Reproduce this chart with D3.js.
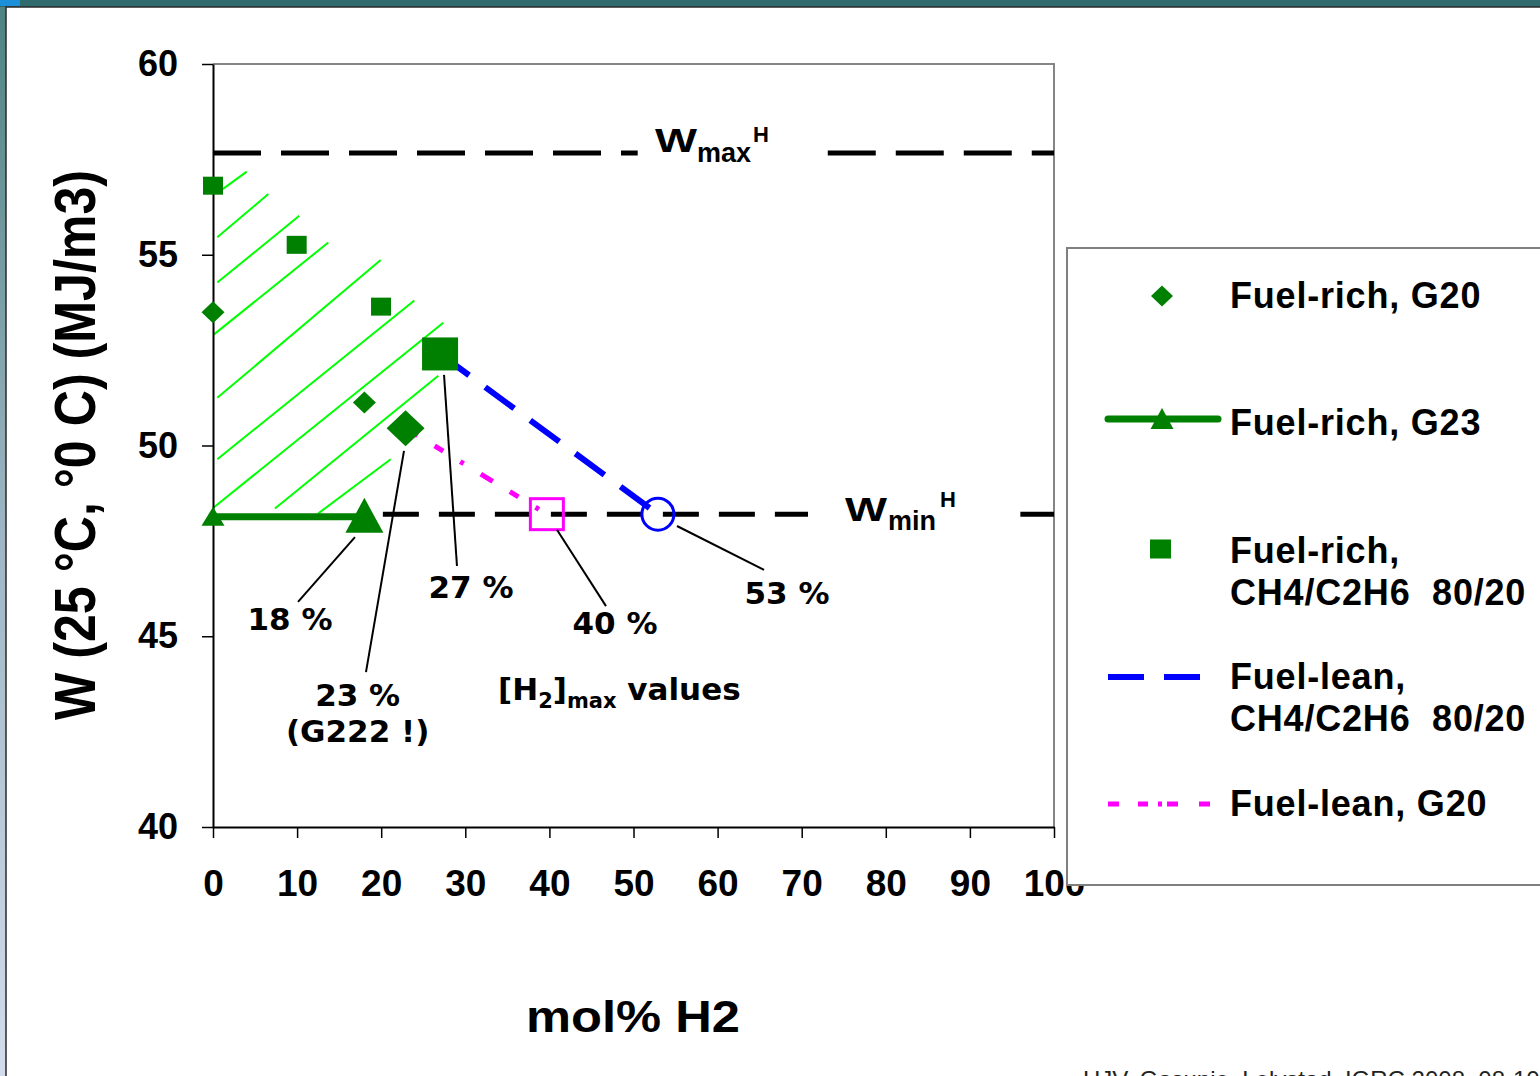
<!DOCTYPE html>
<html>
<head>
<meta charset="utf-8">
<script src="https://cdn.jsdelivr.net/npm/d3@7"></script>
<style>
  html, body { margin: 0; padding: 0; background: #fff; }
  svg { display: block; }
  text { white-space: pre; }
</style>
</head>
<body>
<div id="chart"></div>
<script>
// ---- Data (x = mol% H2, y = W in MJ/m3) ----
const xTicks = [0, 10, 20, 30, 40, 50, 60, 70, 80, 90, 100];
const yTicks = [40, 45, 50, 55, 60];

const wMax = 57.67;
const wMin = 48.2;
const wMaxSegments = [[0, 50.5], [73.1, 100]];
const wMinSegments = [[20.2, 70.75], [96, 100]];

const g20Rich = [[0, 53.49], [18, 51.13]];
const g20RichMax = [22.9, 50.45];
const g23Rich = [[0, 48.13], [18, 48.13]];
const ch4Rich = [[0, 56.81], [9.95, 55.26], [19.98, 53.64]];
const ch4RichMax = [27, 52.4];
const ch4Lean = [[27, 52.4], [52.9, 48.2]];
const g20Lean = [[22.9, 50.45], [39.7, 48.2]];

// hand-drawn hatch over the fuel-rich zone, [x1, y1, x2, y2]
const hatchSegments = [
  [1.03, 56.70, 4.01, 57.18],
  [0.51, 55.46, 6.58, 56.59],
  [0.51, 54.27, 10.26, 56.02],
  [0.04, 52.90, 13.71, 55.32],
  [0.51, 51.25, 19.94, 54.86],
  [0.51, 49.64, 23.94, 53.80],
  [0.04, 48.37, 27.38, 53.22],
  [7.37, 48.35, 26.79, 51.83],
  [12.52, 48.22, 21.13, 49.64]
];

// [H2]max call-outs: text anchor, leader line from/to
const callouts = [
  { lines: ['18 %'], at: [9.16, 45.16], from: [10.11, 45.90], to: [16.88, 47.60] },
  { lines: ['23 %', '(G222 !)'], at: [17.2, 43.17], from: [18.19, 44.06], to: [22.71, 49.86] },
  { lines: ['27 %'], at: [30.68, 46.00], from: [29.01, 46.84], to: [27.47, 51.85] },
  { lines: ['40 %'], at: [47.80, 45.06], from: [46.73, 45.79], to: [40.90, 47.79] },
  { lines: ['53 %'], at: [68.25, 45.85], from: [65.52, 46.74], to: [55.17, 47.89] }
];

const legendLabels = [
  ['Fuel-rich, G20'],
  ['Fuel-rich, G23'],
  ['Fuel-rich,', 'CH4/C2H6  80/20'],
  ['Fuel-lean,', 'CH4/C2H6  80/20'],
  ['Fuel-lean, G20']
];

// ---- Layout ----
const width = 1540, height = 1076;
const plot = { left: 213, right: 1054, top: 64, bottom: 827 };
const green = '#008000';
const axisFont = "'Liberation Sans', Arial, sans-serif";
const noteFont = "'DejaVu Sans', Verdana, sans-serif";

const x = d3.scaleLinear().domain([0, 100]).range([plot.left, plot.right]);
const y = d3.scaleLinear().domain([40, 60]).range([plot.bottom, plot.top]);

const svg = d3.select('#chart').append('svg')
  .attr('width', width)
  .attr('height', height);

// slide frame
const defs = svg.append('defs');
const grad = defs.append('linearGradient').attr('id', 'sideGrad')
  .attr('x1', 0).attr('y1', 0).attr('x2', 0).attr('y2', 1);
grad.append('stop').attr('offset', 0).attr('stop-color', '#4d8282');
grad.append('stop').attr('offset', 0.5).attr('stop-color', '#9fb6c4');
grad.append('stop').attr('offset', 1).attr('stop-color', '#d2dcec');

svg.append('rect').attr('width', width).attr('height', height).attr('fill', 'url(#sideGrad)');
svg.append('rect').attr('width', width).attr('height', 7).attr('fill', '#2f6b6d');
svg.append('rect').attr('width', 20).attr('height', 6).attr('fill', '#1b8fd8');
svg.append('rect')
  .attr('x', 6).attr('y', 7)
  .attr('width', width).attr('height', height)
  .attr('fill', '#fff')
  .attr('stroke', '#2a2a2a')
  .attr('stroke-width', 1.5);

// footer (cut off at the bottom of the slide)
svg.append('text')
  .attr('x', 1083).attr('y', 1088)
  .attr('font-family', axisFont)
  .attr('font-size', 24)
  .attr('fill', '#222')
  .text('HJV, Gasunie, Lelystad, IGRC 2008, 08-10-2008');

// ---- Hatch ----
svg.append('g').selectAll('line')
  .data(hatchSegments)
  .join('line')
  .attr('x1', d => x(d[0])).attr('y1', d => y(d[1]))
  .attr('x2', d => x(d[2])).attr('y2', d => y(d[3]))
  .attr('stroke', '#00ff00')
  .attr('stroke-width', 2);

// ---- Frame and axes ----
svg.append('path')
  .attr('d', `M${plot.left},${plot.top}H${plot.right}V${plot.bottom}`)
  .attr('fill', 'none')
  .attr('stroke', '#858585')
  .attr('stroke-width', 2);

const yAxis = svg.append('g')
  .attr('transform', `translate(${plot.left},0)`)
  .call(d3.axisLeft(y).tickValues(yTicks).tickSize(11).tickSizeOuter(0).tickPadding(24));

const xAxis = svg.append('g')
  .attr('transform', `translate(0,${plot.bottom})`)
  .call(d3.axisBottom(x).tickValues(xTicks).tickSize(11).tickSizeOuter(0).tickPadding(32));

[yAxis, xAxis].forEach(ax => {
  ax.select('.domain').attr('stroke', '#000').attr('stroke-width', 2);
  ax.selectAll('.tick line').attr('stroke', '#000').attr('stroke-width', 1.5);
  ax.selectAll('.tick text')
    .attr('font-family', axisFont)
    .attr('font-weight', 'bold')
    .attr('fill', '#000');
});
yAxis.selectAll('.tick text').attr('font-size', 36);
xAxis.selectAll('.tick text').attr('font-size', 37);

// axis titles
svg.append('text')
  .attr('transform', 'translate(95,445) rotate(-90)')
  .attr('text-anchor', 'middle')
  .attr('font-family', axisFont)
  .attr('font-weight', 'bold')
  .attr('font-size', 58)
  .attr('textLength', 550)
  .attr('lengthAdjust', 'spacingAndGlyphs')
  .text('W (25 °C, °0 C) (MJ/m3)');

svg.append('text')
  .attr('x', 633).attr('y', 1032)
  .attr('text-anchor', 'middle')
  .attr('font-family', axisFont)
  .attr('font-weight', 'bold')
  .attr('font-size', 44)
  .attr('textLength', 214)
  .attr('lengthAdjust', 'spacingAndGlyphs')
  .text('mol% H2');

// ---- Wmax / Wmin reference lines ----
function refLine(segments, level, dash) {
  svg.append('g').selectAll('line')
    .data(segments)
    .join('line')
    .attr('x1', d => x(d[0])).attr('x2', d => x(d[1]))
    .attr('y1', y(level)).attr('y2', y(level))
    .attr('stroke', '#000')
    .attr('stroke-width', 5)
    .attr('stroke-dasharray', dash);
}
refLine(wMaxSegments, wMax, '48,20');
refLine(wMinSegments, wMin, '36,20');

function wLabel(sub, wAt, subAt, supAt) {
  svg.append('text')
    .attr('x', x(wAt[0])).attr('y', y(wAt[1]))
    .attr('font-family', axisFont).attr('font-weight', 'bold')
    .attr('font-size', 34)
    .attr('textLength', 42).attr('lengthAdjust', 'spacingAndGlyphs')
    .text('W');
  svg.append('text')
    .attr('x', x(subAt[0])).attr('y', y(subAt[1]))
    .attr('font-family', axisFont).attr('font-weight', 'bold')
    .attr('font-size', 27)
    .text(sub);
  svg.append('text')
    .attr('x', x(supAt[0])).attr('y', y(supAt[1]))
    .attr('font-family', axisFont).attr('font-weight', 'bold')
    .attr('font-size', 22)
    .text('H');
}
wLabel('max', [52.56, 57.69], [57.55, 57.43], [64.2, 57.96]);
wLabel('min', [75.15, 48.02], [80.26, 47.79], [86.44, 48.39]);

// ---- Series lines ----
const line = d3.line().x(d => x(d[0])).y(d => y(d[1]));

svg.append('path').datum(g23Rich)
  .attr('d', line)
  .attr('fill', 'none')
  .attr('stroke', green)
  .attr('stroke-width', 7);

svg.append('path').datum(ch4Lean)
  .attr('d', line)
  .attr('fill', 'none')
  .attr('stroke', '#0000ff')
  .attr('stroke-width', 6)
  .attr('stroke-dasharray', '36,20');

svg.append('path').datum(g20Lean)
  .attr('d', line)
  .attr('fill', 'none')
  .attr('stroke', '#ff00ff')
  .attr('stroke-width', 5)
  .attr('stroke-dasharray', '14,20,10,20,4,20');

// ---- Markers ----
function diamondPath(cx, cy, hw, hh) {
  return `M${cx},${cy - hh}L${cx + hw},${cy}L${cx},${cy + hh}L${cx - hw},${cy}Z`;
}
function trianglePath(cx, cy, w, up, down) {
  return `M${cx},${cy - up}L${cx + w / 2},${cy + down}L${cx - w / 2},${cy + down}Z`;
}

const marks = svg.append('g');

marks.selectAll('.sq').data(ch4Rich).join('rect')
  .attr('x', d => x(d[0]) - 10).attr('y', d => y(d[1]) - 9)
  .attr('width', 20).attr('height', 18)
  .attr('fill', green);
marks.append('rect')
  .attr('x', x(ch4RichMax[0]) - 18).attr('y', y(ch4RichMax[1]) - 16.5)
  .attr('width', 36).attr('height', 33)
  .attr('fill', green);

marks.selectAll('.dm').data(g20Rich).join('path')
  .attr('d', d => diamondPath(x(d[0]), y(d[1]), 11.5, 11))
  .attr('fill', green);
marks.append('path')
  .attr('d', diamondPath(x(g20RichMax[0]), y(g20RichMax[1]), 19, 18))
  .attr('fill', green);

marks.append('path')
  .attr('d', trianglePath(x(g23Rich[0][0]), y(g23Rich[0][1]), 23, 10, 9))
  .attr('fill', green);
marks.append('path')
  .attr('d', trianglePath(x(g23Rich[1][0]), y(g23Rich[1][1]), 38, 19, 16))
  .attr('fill', green);

// end points of the lean limits
const leanEnd = ch4Lean[ch4Lean.length - 1];
marks.append('circle')
  .attr('cx', x(leanEnd[0])).attr('cy', y(leanEnd[1]))
  .attr('r', 16)
  .attr('fill', 'none')
  .attr('stroke', '#0000ff')
  .attr('stroke-width', 3);
const g20End = g20Lean[g20Lean.length - 1];
marks.append('rect')
  .attr('x', x(g20End[0]) - 16.5).attr('y', y(g20End[1]) - 15.5)
  .attr('width', 33).attr('height', 31)
  .attr('fill', 'none')
  .attr('stroke', '#ff00ff')
  .attr('stroke-width', 3);

// ---- Call-outs ----
const notes = svg.append('g');
notes.selectAll('line').data(callouts).join('line')
  .attr('x1', d => x(d.from[0])).attr('y1', d => y(d.from[1]))
  .attr('x2', d => x(d.to[0])).attr('y2', d => y(d.to[1]))
  .attr('stroke', '#000')
  .attr('stroke-width', 2);

callouts.forEach(c => {
  const t = notes.append('text')
    .attr('text-anchor', 'middle')
    .attr('font-family', noteFont)
    .attr('font-weight', 'bold')
    .attr('font-size', 31);
  c.lines.forEach((s, i) => {
    t.append('tspan')
      .attr('x', x(c.at[0]))
      .attr('y', y(c.at[1]) + i * 36)
      .text(s);
  });
});

const h2 = notes.append('text')
  .attr('x', x(33.89)).attr('y', y(43.33))
  .attr('font-family', noteFont)
  .attr('font-weight', 'bold')
  .attr('font-size', 31);
h2.append('tspan').text('[H');
h2.append('tspan').attr('font-size', 21).attr('dy', 8).text('2');
h2.append('tspan').attr('dy', -8).text(']');
h2.append('tspan').attr('font-size', 21).attr('dy', 8).text('max');
h2.append('tspan').attr('dy', -8).text(' values');

// ---- Legend ----
const legend = svg.append('g');
legend.append('rect')
  .attr('x', 1067).attr('y', 248)
  .attr('width', 520).attr('height', 637)
  .attr('fill', '#fff')
  .attr('stroke', '#7f7f7f')
  .attr('stroke-width', 2);

const legendRowY = [296, 419, 549, 677, 804];
const legendTextY = [308, 435, 563, 688.5, 816];
const symX = 1162;

legend.append('path').attr('d', diamondPath(symX, legendRowY[0], 11, 10.5)).attr('fill', green);

legend.append('line')
  .attr('x1', 1108).attr('x2', 1218)
  .attr('y1', legendRowY[1]).attr('y2', legendRowY[1])
  .attr('stroke', green).attr('stroke-width', 7).attr('stroke-linecap', 'round');
legend.append('path').attr('d', trianglePath(symX, legendRowY[1], 23, 11, 10)).attr('fill', green);

legend.append('rect')
  .attr('x', 1150).attr('y', legendRowY[2] - 9.5)
  .attr('width', 21).attr('height', 19)
  .attr('fill', green);

legend.append('line')
  .attr('x1', 1108).attr('x2', 1200)
  .attr('y1', legendRowY[3]).attr('y2', legendRowY[3])
  .attr('stroke', '#0000ff').attr('stroke-width', 6)
  .attr('stroke-dasharray', '36,20');

legend.append('line')
  .attr('x1', 1108).attr('x2', 1212)
  .attr('y1', legendRowY[4]).attr('y2', legendRowY[4])
  .attr('stroke', '#ff00ff').attr('stroke-width', 5)
  .attr('stroke-dasharray', '11,19,10,10,4,5,11,21');

legendLabels.forEach((lines, i) => {
  const t = legend.append('text')
    .attr('font-family', axisFont)
    .attr('font-weight', 'bold')
    .attr('font-size', 36)
    .attr('letter-spacing', 0.8);
  lines.forEach((s, j) => {
    t.append('tspan')
      .attr('x', 1230)
      .attr('y', legendTextY[i] + j * 42)
      .text(s);
  });
});
</script>
</body>
</html>
